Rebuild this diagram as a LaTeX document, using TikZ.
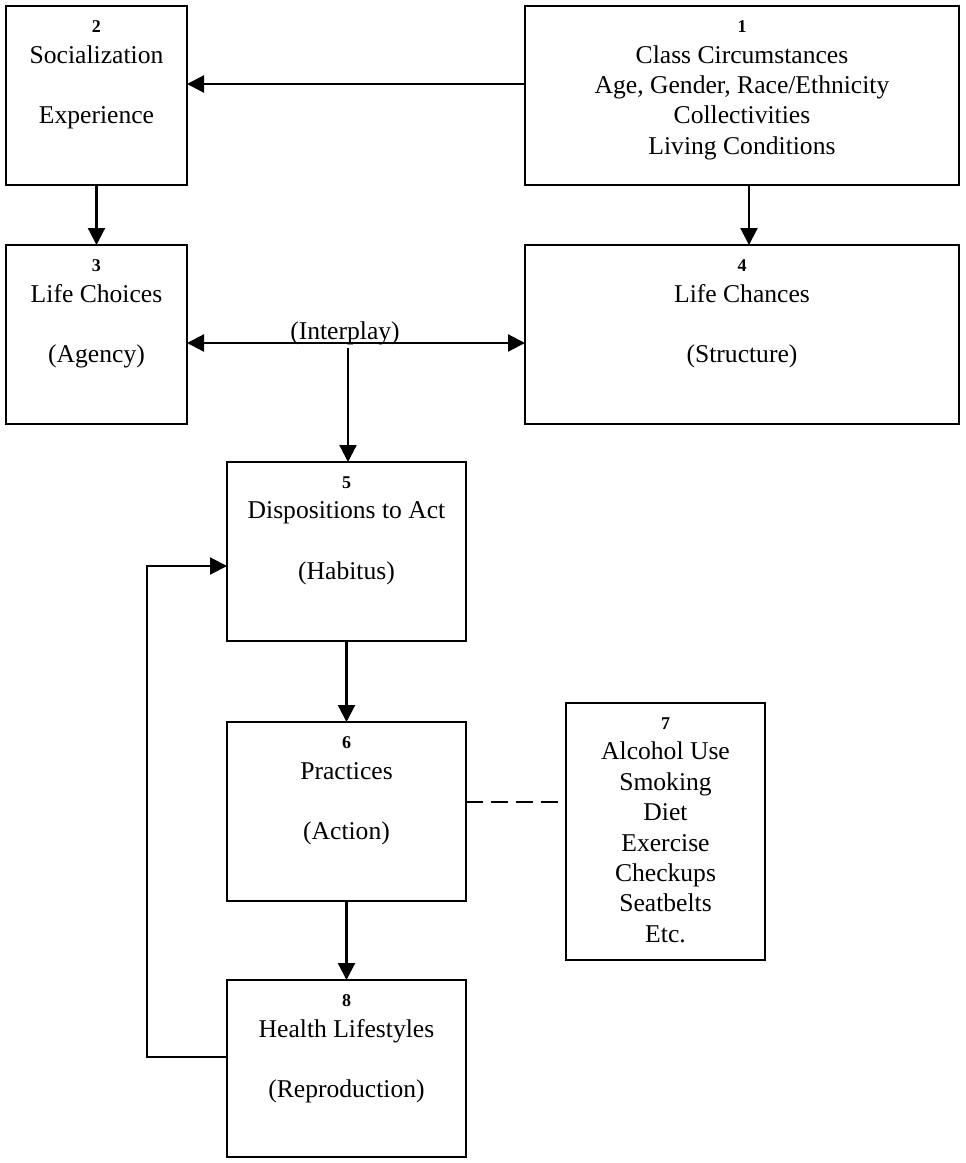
\documentclass[tikz,border=0pt]{standalone}
\usepackage{fontspec}
\setmainfont{Liberation Serif}
\usepackage{tikz}
\usetikzlibrary{arrows.meta, positioning}
\tikzstyle{block} = [rectangle, draw=black, line width=0.9pt, inner sep=0pt, outer sep=0pt]
\tikzstyle{arrow} = [line width=1.1pt, >={Triangle[length=8.5pt, width=8.5pt]}, ->]
\tikzstyle{link} = [line width=1.1pt, dash pattern=on 8.5pt off 4pt]
\newcommand{\boxno}[1]{{\fontsize{9}{15.2}\selectfont\bfseries #1}}
\newcommand{\boxtext}[3]{\parbox[c][#2][t]{#1}{\centering\vspace{7.4pt}#3}}

\begin{document}
\begin{tikzpicture}[x=0.5pt, y=-0.5pt, node distance=30pt, font=\fontsize{12.8}{15.2}\selectfont]
        \useasboundingbox (0,0) rectangle (965,1163);
        \node (social) [block] at (96.5,95.5) {\boxtext{90.5pt}{89.5pt}{\boxno{2}\\Socialization\\[15.2pt]Experience}};
        \node (class_circ) [block, right=169pt of social] {\boxtext{217pt}{89.5pt}{\boxno{1}\\Class Circumstances\\Age, Gender, Race/Ethnicity\\Collectivities\\Living Conditions}};
        \node (life_choices) [block, below=of social] {\boxtext{90.5pt}{89.5pt}{\boxno{3}\\Life Choices\\[15.2pt](Agency)}};
        \node (life_chances) [block, below=of class_circ] {\boxtext{217pt}{89.5pt}{\boxno{4}\\Life Chances\\[15.2pt](Structure)}};
        \node (disp_act) [block, below=19pt of life_choices, xshift=125pt] {\boxtext{119.5pt}{89.5pt}{\boxno{5}\\Dispositions to Act\\[15.2pt](Habitus)}};
        \node (practices) [block, below=40.5pt of disp_act] {\boxtext{119.5pt}{89.5pt}{\boxno{6}\\Practices\\[15.2pt](Action)}};
        \node (health_beh) [block, right=50pt of practices, yshift=-10pt] {\boxtext{99.5pt}{128.5pt}{\boxno{7}\\Alcohol Use\\Smoking\\Diet\\Exercise\\Checkups\\Seatbelts\\Etc.}};
        \node (health_life) [block, below=39.5pt of practices] {\boxtext{119.5pt}{88.5pt}{\boxno{8}\\Health Lifestyles\\[15.2pt](Reproduction)}};
        \node (interplay) [anchor=base] at (345,339) {(Interplay)};
        \coordinate (split) at (348,343);
        \coordinate (back) at (147,566);

        \draw[arrow] ([yshift=5.75pt]class_circ.west) -- ([yshift=5.75pt]social.east);
        \draw[arrow] (social) -- (life_choices);
        \draw[arrow] ([xshift=3.5pt]class_circ.south) -- ([xshift=3.5pt]life_chances.north);
        \draw[arrow, <->] (split -| life_choices.east) -- (split -| life_chances.west);
        \draw[arrow] ([yshift=-2.5pt]split) -- (split |- disp_act.north);
        \draw[arrow] (disp_act) -- (practices);
        \draw[arrow] (practices) -- (health_life);
        \draw[link] ([yshift=4.75pt]practices.east) -- ([yshift=14.75pt]health_beh.west);
        \draw[arrow] ([yshift=5.75pt]health_life.west) -| (back) -- (back -| disp_act.west);
    \end{tikzpicture}
\end{document}
